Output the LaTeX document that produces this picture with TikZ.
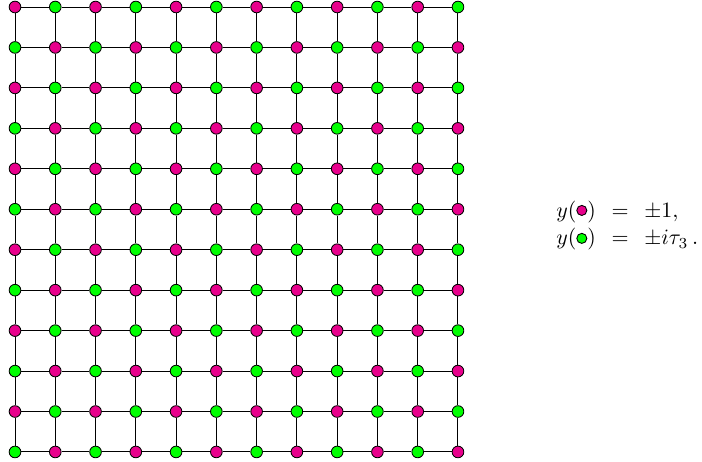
\documentclass[tikz,border=0pt]{standalone}
\usepackage{graphicx}
\usepackage{amsmath}
\definecolor{mag}{RGB}{232,0,140}
\definecolor{grn}{RGB}{0,255,0}
\newcommand{\legdot}[1]{\tikz[baseline={([yshift=-3pt]current bounding box.center)}]\draw[line width=0.4pt,fill=#1] (0,0) circle (2.3pt);}
\tikzset{
  site/.style={circle,draw=black,line width=0.6pt,inner sep=0pt,minimum size=8.3pt},
  magsite/.style={site,fill=mag},
  grnsite/.style={site,fill=grn},
  bond/.style={draw=black,line width=0.7pt}
}
\begin{document}
\begin{tikzpicture}[x=0.712pt,y=-0.712pt]
\useasboundingbox (0,0) rectangle (702,461);
\foreach \i in {0,...,11}{
  \foreach \j in {0,...,11}{
    \pgfmathsetmacro{\px}{15+40.27*\j}
    \pgfmathsetmacro{\py}{7+40.45*\i}
    \pgfmathtruncatemacro{\parity}{mod(\i+\j,2)}
    \ifnum\parity=0
      \node[magsite] (n-\i-\j) at (\px,\py) {};
    \else
      \node[grnsite] (n-\i-\j) at (\px,\py) {};
    \fi
  }
}
\foreach \i in {0,...,11}{
  \foreach \j [evaluate=\j as \k using int(\j+1)] in {0,...,10}{
    \draw[bond] (n-\i-\j) -- (n-\i-\k);
    \draw[bond] (n-\j-\i) -- (n-\k-\i);
  }
}
\node[anchor=base west,inner sep=0pt] (legend) at (556,217)
  {\scalebox{1.56}{\setlength{\arraycolsep}{3.6pt}$\begin{array}[t]{@{}rcl@{}}
    y(\legdot{mag}) & = & \pm 1,\\[0.75pt]
    y(\legdot{grn}) & = & \pm i\tau_3\,.
  \end{array}$}};
\end{tikzpicture}
\end{document}
